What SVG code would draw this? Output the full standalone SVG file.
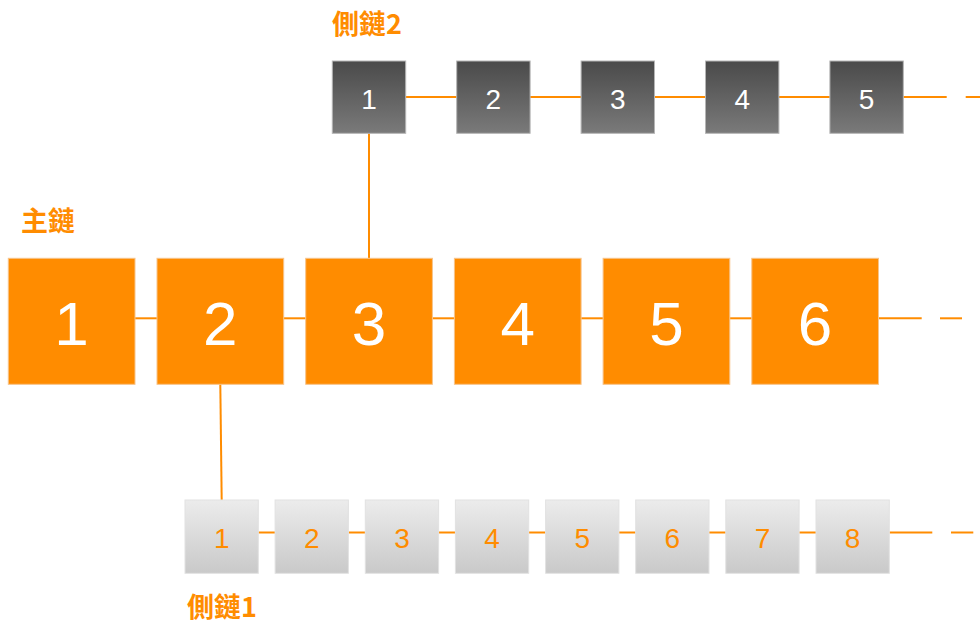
<svg xmlns="http://www.w3.org/2000/svg" width="980" height="625" viewBox="0 0 980 625">
<defs>
<linearGradient id="gDark" x1="0" y1="0" x2="0" y2="1">
<stop offset="0" stop-color="#4a4a4a"/><stop offset="1" stop-color="#7a7a7a"/>
</linearGradient>
<linearGradient id="gLight" x1="0" y1="0" x2="0" y2="1">
<stop offset="0" stop-color="#ececec"/><stop offset="1" stop-color="#c9c9c9"/>
</linearGradient>
<style>
.ln{stroke:#ff8c00;stroke-width:2;fill:none}
.main rect{fill:#ff8c00;stroke:#f7c48a;stroke-width:1}
.main text{fill:#fff;font-family:"Liberation Sans",Arial,sans-serif;font-size:62px;text-anchor:middle}
.dark rect{fill:url(#gDark);stroke:#b5b5b5;stroke-width:1}
.dark text{fill:#fff;font-family:"Liberation Sans",Arial,sans-serif;font-size:28px;text-anchor:middle}
.light rect{fill:url(#gLight);stroke:#e2e2e2;stroke-width:1}
.light text{fill:#ff8c00;font-family:"Liberation Sans",Arial,sans-serif;font-size:28px;text-anchor:middle}
.lbl{fill:#ff8c00;font-family:"Noto Sans CJK TC","Noto Sans CJK SC",sans-serif;font-weight:bold;font-size:27px}
</style>
</defs>
<rect width="980" height="625" fill="#fff"/>
<g id="connectors">
<line class="ln" x1="405.7" y1="97" x2="456.7" y2="97"/>
<line class="ln" x1="530.1" y1="97" x2="581.1" y2="97"/>
<line class="ln" x1="654.5" y1="97" x2="705.5" y2="97"/>
<line class="ln" x1="778.9" y1="97" x2="829.9" y2="97"/>
<line class="ln" x1="903.3" y1="97" x2="946.7" y2="97"/>
<line class="ln" x1="965.7" y1="97" x2="980" y2="97"/>
<line class="ln" x1="369" y1="133.3" x2="369" y2="258.3"/>
<line class="ln" x1="135" y1="318.3" x2="157" y2="318.3"/>
<line class="ln" x1="283.7" y1="318.3" x2="305.7" y2="318.3"/>
<line class="ln" x1="432.4" y1="318.3" x2="454.4" y2="318.3"/>
<line class="ln" x1="581.1" y1="318.3" x2="603.1" y2="318.3"/>
<line class="ln" x1="729.8" y1="318.3" x2="751.8" y2="318.3"/>
<line class="ln" x1="878.5" y1="318.3" x2="921.7" y2="318.3"/>
<line class="ln" x1="940" y1="318.3" x2="962" y2="318.3"/>
<line class="ln" x1="220.3" y1="384.3" x2="221.7" y2="500"/>
<line class="ln" x1="258.3" y1="532.5" x2="275.1" y2="532.5"/>
<line class="ln" x1="348.4" y1="532.5" x2="365.3" y2="532.5"/>
<line class="ln" x1="438.6" y1="532.5" x2="455.4" y2="532.5"/>
<line class="ln" x1="528.7" y1="532.5" x2="545.6" y2="532.5"/>
<line class="ln" x1="618.9" y1="532.5" x2="635.7" y2="532.5"/>
<line class="ln" x1="709" y1="532.5" x2="725.8" y2="532.5"/>
<line class="ln" x1="799.1" y1="532.5" x2="816" y2="532.5"/>
<line class="ln" x1="889.3" y1="532.5" x2="932.3" y2="532.5"/>
<line class="ln" x1="951" y1="532.5" x2="973.3" y2="532.5"/>
</g>
<g id="labels">
<text id="label-side2" class="lbl" x="332" y="34">側鏈2</text>
<text id="label-main" class="lbl" x="21" y="231">主鏈</text>
<text id="label-side1" class="lbl" x="187" y="617">側鏈1</text>
</g>
<g id="side2-1" class="dark"><rect x="332.3" y="61" width="73.4" height="72.3"/><text x="369" y="109">1</text></g>
<g id="side2-2" class="dark"><rect x="456.7" y="61" width="73.4" height="72.3"/><text x="493.4" y="109">2</text></g>
<g id="side2-3" class="dark"><rect x="581.1" y="61" width="73.4" height="72.3"/><text x="617.8" y="109">3</text></g>
<g id="side2-4" class="dark"><rect x="705.5" y="61" width="73.4" height="72.3"/><text x="742.2" y="109">4</text></g>
<g id="side2-5" class="dark"><rect x="829.9" y="61" width="73.4" height="72.3"/><text x="866.6" y="109">5</text></g>
<g id="main-1" class="main"><rect x="8.3" y="258.3" width="126.7" height="126"/><text x="71.6" y="345">1</text></g>
<g id="main-2" class="main"><rect x="157" y="258.3" width="126.7" height="126"/><text x="220.3" y="345">2</text></g>
<g id="main-3" class="main"><rect x="305.7" y="258.3" width="126.7" height="126"/><text x="369" y="345">3</text></g>
<g id="main-4" class="main"><rect x="454.4" y="258.3" width="126.7" height="126"/><text x="517.7" y="345">4</text></g>
<g id="main-5" class="main"><rect x="603.1" y="258.3" width="126.7" height="126"/><text x="666.4" y="345">5</text></g>
<g id="main-6" class="main"><rect x="751.8" y="258.3" width="126.7" height="126"/><text x="815.1" y="345">6</text></g>
<g id="side1-1" class="light"><rect x="185" y="500" width="73.3" height="73.3"/><text x="221.7" y="548">1</text></g>
<g id="side1-2" class="light"><rect x="275.1" y="500" width="73.3" height="73.3"/><text x="311.8" y="548">2</text></g>
<g id="side1-3" class="light"><rect x="365.3" y="500" width="73.3" height="73.3"/><text x="402" y="548">3</text></g>
<g id="side1-4" class="light"><rect x="455.4" y="500" width="73.3" height="73.3"/><text x="492.1" y="548">4</text></g>
<g id="side1-5" class="light"><rect x="545.6" y="500" width="73.3" height="73.3"/><text x="582.2" y="548">5</text></g>
<g id="side1-6" class="light"><rect x="635.7" y="500" width="73.3" height="73.3"/><text x="672.4" y="548">6</text></g>
<g id="side1-7" class="light"><rect x="725.8" y="500" width="73.3" height="73.3"/><text x="762.5" y="548">7</text></g>
<g id="side1-8" class="light"><rect x="816" y="500" width="73.3" height="73.3"/><text x="852.6" y="548">8</text></g>
</svg>
